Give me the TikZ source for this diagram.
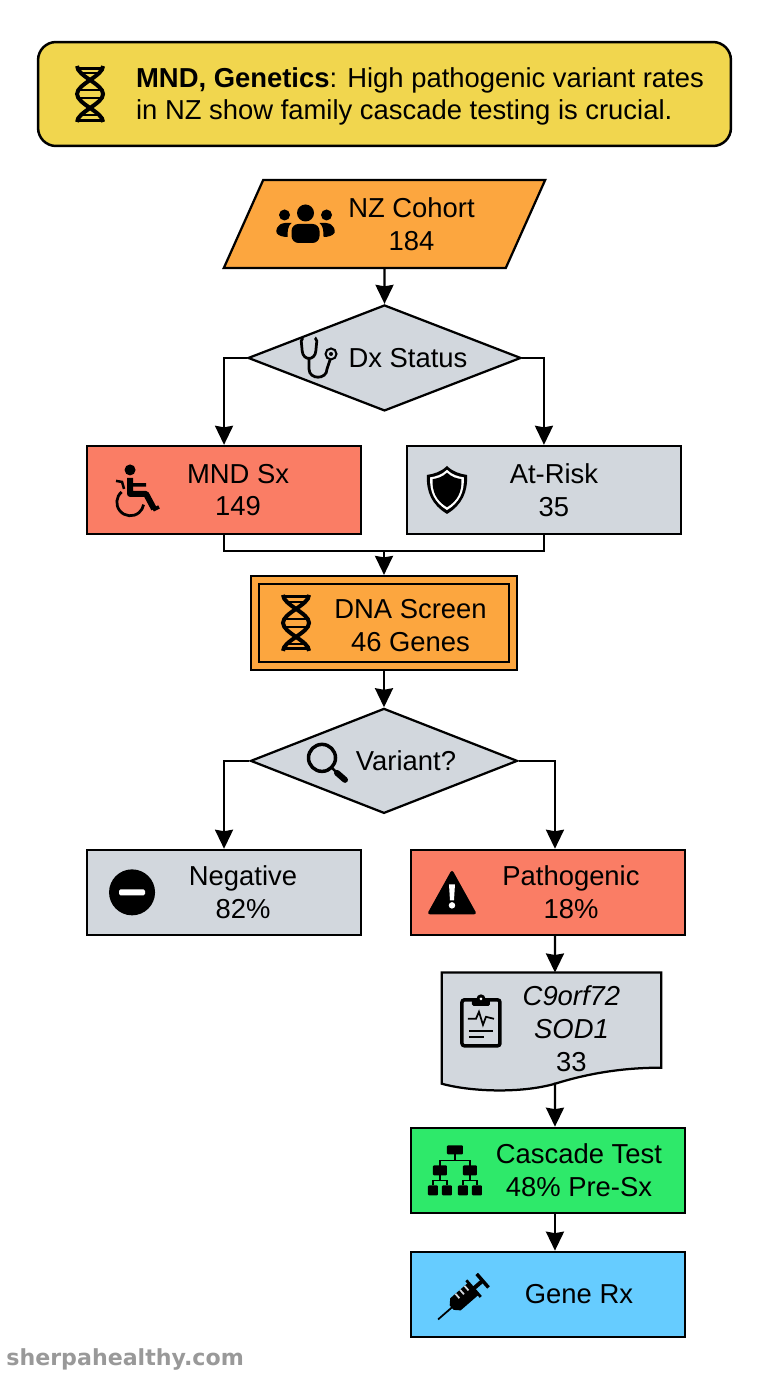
\documentclass[tikz,border=0pt]{standalone}
\usepackage{fontspec}
\setmainfont{Liberation Sans}
\newfontfamily\sitefont{DejaVu Sans}
\usetikzlibrary{shapes.geometric}
\usetikzlibrary{positioning}
\usetikzlibrary{arrows.meta}
\usetikzlibrary{backgrounds}
\definecolor{bannerYellow}{HTML}{F1D64E}
\definecolor{sourceOrange}{HTML}{FCA63F}
\definecolor{stepGrey}{HTML}{D2D7DD}
\definecolor{alertRed}{HTML}{FA7D65}
\definecolor{testGreen}{HTML}{2EE96A}
\definecolor{therapyBlue}{HTML}{66CCFF}
\tikzstyle{banner} = [rectangle, rounded corners=.36cm, minimum width=13.86cm, minimum height=2.08cm, align=left, draw=black, line width=.05cm, fill=bannerYellow, font=\fontsize{15.6}{18.6}\selectfont]
\tikzstyle{source} = [trapezium, trapezium left angle=61, trapezium right angle=119, trapezium stretches=true, minimum width=6.44cm, minimum height=1.76cm, inner sep=0pt, align=center, draw=black, line width=.045cm, fill=sourceOrange, font=\fontsize{15.6}{18.6}\selectfont]
\tikzstyle{decision} = [diamond, aspect=2.57, minimum width=5.46cm, minimum height=2.12cm, inner sep=0pt, align=center, draw=black, line width=.045cm, fill=stepGrey, font=\fontsize{15.6}{18.6}\selectfont]
\tikzstyle{process} = [rectangle, minimum width=5.48cm, minimum height=1.76cm, align=center, draw=black, line width=.045cm, fill=stepGrey, font=\fontsize{15.6}{18.6}\selectfont]
\tikzstyle{result} = [process, minimum height=1.70cm]
\tikzstyle{screen} = [rectangle, minimum width=5.18cm, minimum height=1.72cm, outer sep=.1cm, align=center, draw=black, line width=.04cm, double=sourceOrange, double distance=.12cm, fill=sourceOrange, font=\fontsize{15.6}{18.6}\selectfont]
\tikzstyle{report} = [rectangle, minimum width=4.38cm, minimum height=2.34cm, align=center, font=\fontsize{15.6}{18.6}\selectfont]
\tikzstyle{arrow} = [line width=.045cm,->,>={Stealth[length=.38cm,width=.36cm,inset=.03cm]}]
\tikzstyle{line} = [line width=.045cm]
\tikzset{
  dnaicon/.pic={
    \draw [line width=.08cm] (-13,-28) .. controls (-13,-18) and (13,-10) .. (13,0) .. controls (13,10) and (-13,18) .. (-13,28);
    \draw [line width=.08cm] (13,-28) .. controls (13,-18) and (-13,-10) .. (-13,0) .. controls (-13,10) and (13,18) .. (13,28);
    \draw [line width=.06cm] (-13,-26) -- (13,-26) (-13,26) -- (13,26);
    \draw [line width=.04cm] (-12,-4) -- (12,-4) (-12,4) -- (12,4) (-8,-21) -- (8,-21) (-8,21) -- (8,21);
  },
  peopleicon/.pic={
    \fill (0,-11) circle (.17cm);
    \fill (-21,-9) circle (.11cm);
    \fill (21,-9) circle (.11cm);
    \fill [rounded corners=.14cm] (-14,19) -- (-14,0) -- (14,0) -- (14,19) -- cycle;
    \fill (-29,9) .. controls (-30,1) and (-24,-2) .. (-14,-1) .. controls (-18,2) and (-18,8) .. (-18,13) .. controls (-22,13) and (-27,12) .. (-29,9) -- cycle;
    \fill (29,9) .. controls (30,1) and (24,-2) .. (14,-1) .. controls (18,2) and (18,8) .. (18,13) .. controls (22,13) and (27,12) .. (29,9) -- cycle;
  },
  stethicon/.pic={
    \draw [line width=.055cm, rounded corners=.04cm] (-15,-20) -- (-17,-19) -- (-16,-9) .. controls (-15,3) and (-3,3) .. (-2,-9) -- (-1,-19) -- (-3,-20);
    \draw [line width=.055cm] (-9,1) -- (-9,11) .. controls (-9,22) and (9,22) .. (9,11) -- (12,2);
    \draw [line width=.04cm] (13,-4) circle (.11cm);
    \fill (13,-4) circle (.04cm);
  },
  chairicon/.pic={
    \fill (-6,-20) circle (.11cm);
    \draw [line width=.12cm, line join=round] (-6,-12) -- (-6,4) -- (10,4) -- (18,19);
    \draw [line width=.07cm] (-6,-5) -- (10,-5) (17,20) -- (23,17);
    \draw [line width=.05cm] (-20,-9) -- (-14,-8) -- (-12,-1);
    \draw [line width=.055cm] (-14.4,2) arc [start angle=130, end angle=350, radius=.27cm];
  },
  shieldicon/.pic={
    \fill (0,-24) .. controls (-6,-18) and (-13,-16) .. (-20,-15) .. controls (-21,2) and (-15,15) .. (0,24) .. controls (15,15) and (21,2) .. (20,-15) .. controls (13,-16) and (6,-18) .. (0,-24) -- cycle;
    \fill [white, scale=.84] (0,-24) .. controls (-6,-18) and (-13,-16) .. (-20,-15) .. controls (-21,2) and (-15,15) .. (0,24) .. controls (15,15) and (21,2) .. (20,-15) .. controls (13,-16) and (6,-18) .. (0,-24) -- cycle;
    \fill [scale=.72] (0,-24) .. controls (-6,-18) and (-13,-16) .. (-20,-15) .. controls (-21,2) and (-15,15) .. (0,24) .. controls (15,15) and (21,2) .. (20,-15) .. controls (13,-16) and (6,-18) .. (0,-24) -- cycle;
  },
  lensicon/.pic={
    \draw [line width=.07cm] (-5,-3) circle (.27cm);
    \draw [line width=.05cm] (5,7) -- (10,12);
    \draw [line width=.12cm, line cap=round] (10,12) -- (18,19);
  },
  minusicon/.pic={
    \fill (0,0) circle (.46cm);
    \fill [white, rounded corners=.03cm] (-13,-3) rectangle (13,3);
  },
  warningicon/.pic={
    \fill [rounded corners=.06cm] (0,-23) -- (25,22) -- (-25,22) -- cycle;
    \fill [white] (-3,-8) -- (3,-8) -- (2,8) -- (-2,8) -- cycle;
    \fill [white] (0,13) circle (.065cm);
  },
  clipicon/.pic={
    \draw [line width=.07cm, rounded corners=.05cm] (-19,-22) rectangle (19,24);
    \fill [rounded corners=.03cm] (-9,-22) rectangle (9,-16);
    \fill (0,-23) circle (.09cm);
    \fill [white] (0,-23) circle (.03cm);
    \draw [line width=.035cm] (-13,-3) -- (-5,-3) -- (-2,-10) -- (2,3) -- (5,-5) -- (13,-3);
    \draw [line width=.035cm] (-12,9) -- (12,9) (-12,15) -- (3,15);
  },
  treeicon/.pic={
    \draw [line width=.03cm] (0,-20) -- (0,-10) (-15,-1) -- (-15,-10) -- (15,-10) -- (15,-1);
    \draw [line width=.03cm] (-15,4) -- (-15,10) (-22,15) -- (-22,10) -- (-8,10) -- (-8,15);
    \draw [line width=.03cm] (15,4) -- (15,10) (8,15) -- (8,10) -- (22,10) -- (22,15);
    \fill [rounded corners=.02cm] (-8,-25) rectangle (8,-16);
    \foreach \col in {-15,15} \fill [rounded corners=.02cm] (\col-7,-5) rectangle (\col+7,5);
    \foreach \col in {-22,-8,8,22} \fill [rounded corners=.02cm] (\col-5,15) rectangle (\col+5,25);
  },
  syringeicon/.pic={
    \begin{scope}[rotate=41]
      \draw [line width=.035cm] (-33,0) -- (-14,0);
      \fill (-15,-3) -- (-10,-8) -- (14,-8) -- (14,8) -- (-10,8) -- (-15,3) -- cycle;
      \draw [line width=.035cm, stepGrey] (-3,-8) -- (-3,-2) (3,-8) -- (3,-2) (9,-8) -- (9,-2);
      \draw [line width=.055cm] (14,-11) -- (14,11);
      \draw [line width=.08cm] (14,0) -- (26,0);
      \draw [line width=.07cm] (26,-9) -- (26,9);
    \end{scope}
  }
}
\begin{document}
\begin{tikzpicture}[node distance=2cm, x=.02cm, y=-.02cm]
        \useasboundingbox (0,0) rectangle (768,1376);
        \node (banner) [banner] at (384.5,94) {\rule{0pt}{14pt}\hspace*{1.42cm}\textbf{MND, Genetics}: High pathogenic variant rates\\\hspace*{1.42cm}in NZ show family cascade testing is crucial.};
        \node (cohort) [source, below of=banner, yshift=-.6cm] {\hspace*{1.08cm}NZ Cohort\\\hspace*{1.08cm}184};
        \node (dxStatus) [decision, below of=cohort, yshift=-.68cm] {\hspace*{.94cm}Dx Status};
        \node (mnd) [process, fill=alertRed, below of=dxStatus, xshift=-3.21cm, yshift=-.64cm] {\hspace*{.56cm}MND Sx\\\hspace*{.56cm}149};
        \node (atRisk) [process, right of=mnd, xshift=4.4cm] {\hspace*{.4cm}At-Risk\\\hspace*{.4cm}35};
        \node (dnaScreen) [screen, below of=dxStatus, xshift=-.01cm, yshift=-3.3cm] {\rule{0pt}{14pt}\hspace*{1.06cm}DNA Screen\\\hspace*{1.06cm}46 Genes};
        \node (variant) [decision, minimum width=5.34cm, minimum height=2.1cm, below of=dnaScreen, yshift=-.76cm] {\hspace*{.88cm}Variant?};
        \node (negative) [result, below of=variant, xshift=-3.2cm, yshift=-.63cm] {\hspace*{.76cm}Negative\\\hspace*{.76cm}82\%};
        \node (pathogenic) [result, fill=alertRed, right of=negative, xshift=4.48cm] {\hspace*{.92cm}Pathogenic\\\hspace*{.92cm}18\%};
        \node (genes) [report, below of=pathogenic, xshift=.07cm, yshift=-.78cm] {\hspace*{.8cm}\textit{C9orf72}\\\hspace*{.8cm}\textit{SOD1}\\\hspace*{.8cm}33\rule[-3pt]{0pt}{0pt}};
        \node (cascade) [result, fill=testGreen, below of=pathogenic, yshift=-3.56cm] {\hspace*{1.24cm}Cascade Test\\\hspace*{1.24cm}48\% Pre-Sx};
        \node (geneRx) [result, fill=therapyBlue, below of=cascade, yshift=-.48cm] {\hspace*{1.24cm}Gene Rx};
        \node (site) [anchor=west, text=black!40, inner sep=0pt, font=\sitefont\bfseries\fontsize{12.6}{14}\selectfont] at (6,1359) {sherpahealthy.com};

        \begin{scope}[on background layer]
            \draw [line, fill=stepGrey] (genes.north west) -- (genes.north east) -- ([yshift=.45cm]genes.south east) .. controls ([xshift=-.72cm,yshift=.45cm]genes.south east) and ([xshift=-1.42cm,yshift=.35cm]genes.south east) .. ([xshift=-2.12cm,yshift=.13cm]genes.south east) .. controls ([xshift=-2.82cm,yshift=-.07cm]genes.south east) and ([xshift=-3.82cm,yshift=-.03cm]genes.south east) .. ([yshift=.13cm]genes.south west) -- cycle;
        \end{scope}

        \pic at ([xshift=-5.89cm]banner) {dnaicon};
        \pic at ([xshift=-1.58cm]cohort) {peopleicon};
        \pic at ([xshift=-1.33cm]dxStatus) {stethicon};
        \pic at ([xshift=-1.76cm]mnd) {chairicon};
        \pic at ([xshift=-1.94cm]atRisk) {shieldicon};
        \pic at ([xshift=-1.76cm]dnaScreen) {dnaicon};
        \pic at ([xshift=-1.14cm]variant) {lensicon};
        \pic at ([xshift=-1.84cm]negative) {minusicon};
        \pic at ([xshift=-1.92cm]pathogenic) {warningicon};
        \pic at ([xshift=-1.41cm,yshift=.19cm]genes) {clipicon};
        \pic at ([xshift=-1.86cm]cascade) {treeicon};
        \pic at ([xshift=-1.7cm,yshift=-.07cm]geneRx) {syringeicon};

        \coordinate (merge) at ([yshift=.48cm]dnaScreen.north);
        \draw [arrow] (cohort.south) -- (dxStatus.north);
        \draw [arrow] (dxStatus.west) -| (mnd.north);
        \draw [arrow] (dxStatus.east) -| (atRisk.north);
        \draw [line] (mnd.south) |- (merge) -| (atRisk.south);
        \draw [arrow] (merge) -- (dnaScreen.north);
        \draw [arrow] (dnaScreen.south) -- (variant.north);
        \draw [arrow] (variant.west) -| (negative.north);
        \draw [arrow] (variant.east) -| ([xshift=.14cm]pathogenic.north);
        \draw [arrow] ([xshift=.14cm]pathogenic.south) -- ([xshift=.07cm]genes.north);
        \draw [arrow] ([xshift=.07cm,yshift=.15cm]genes.south) -- ([xshift=.14cm]cascade.north);
        \draw [arrow] ([xshift=.14cm]cascade.south) -- ([xshift=.14cm]geneRx.north);
    \end{tikzpicture}
\end{document}
